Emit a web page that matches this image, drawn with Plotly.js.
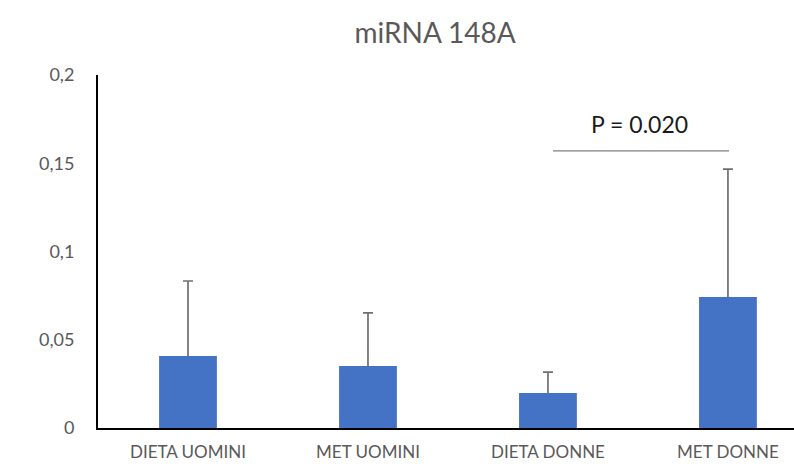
<!DOCTYPE html>
<html>
<head>
<meta charset="utf-8">
<script src="https://cdn.plot.ly/plotly-3.0.1.min.js"></script>
<style>html,body{margin:0;padding:0;background:#fff;}#chart{width:794px;height:468px;}</style>
</head>
<body>
<div id="chart"></div>
<script>
const categories = ["DIETA UOMINI", "MET UOMINI", "DIETA DONNE", "MET DONNE"];
const means = [0.0402, 0.0346, 0.0193, 0.0737];
const errors = [0.0431, 0.0306, 0.0124, 0.0730];
const yTickVals = [0, 0.05, 0.1, 0.15, 0.2];
const yTickText = ["0", "0,05", "0,1", "0,15", "0,2"];
const pLabel = "P = 0.020";
const pLineY = 0.157;
const pTextY = 0.172;

const positions = categories.map((c, i) => i);
const FONT = "Lato, 'Open Sans', sans-serif";

const errTrace = {
  type: "bar",
  x: positions,
  y: means,
  width: 0.31,
  marker: {color: "#4472C4"},
  error_y: {
    type: "data",
    symmetric: false,
    array: errors,
    arrayminus: errors.map(() => 0),
    color: "#6f6f6f",
    thickness: 1.7,
    width: 5
  },
  hoverinfo: "none"
};
// same bars drawn again on top so the lower end of the one-sided error bar is hidden
const barTrace = {
  type: "bar",
  x: positions,
  y: means,
  width: 0.31,
  marker: {color: "#4472C4", line: {color: "#4472C4", width: 2}},
  hoverinfo: "none"
};

const layout = {
  width: 794, height: 468,
  margin: {l: 98, r: 0, t: 75, b: 40},
  barmode: "overlay",
  paper_bgcolor: "#ffffff", plot_bgcolor: "#ffffff",
  font: {family: FONT, color: "#595959"},
  title: {text: "miRNA 148A", x: 0.548, xanchor: "center", y: 0.93, yanchor: "middle",
          font: {size: 28, color: "#595959", family: FONT}},
  showlegend: false,
  xaxis: {
    range: [-0.5, 3.367],
    tickvals: positions,
    ticktext: categories,
    showgrid: false, zeroline: false,
    showline: true, linecolor: "#000000", linewidth: 2,
    ticks: "", tickfont: {size: 17, color: "#595959"},
    ticklabelstandoff: 8
  },
  yaxis: {
    range: [0, 0.2],
    tickvals: yTickVals, ticktext: yTickText,
    showgrid: false, zeroline: false,
    showline: true, linecolor: "#000000", linewidth: 2,
    ticks: "", tickfont: {size: 18, color: "#595959"},
    ticklabelstandoff: 18
  },
  shapes: [{
    type: "line", xref: "x", yref: "y",
    x0: 2.028, x1: 3.006, y0: pLineY, y1: pLineY,
    line: {color: "#7f7f7f", width: 1.3}
  }],
  annotations: [{
    xref: "x", yref: "y", x: 2.51, y: pTextY,
    text: pLabel, showarrow: false,
    font: {size: 23, color: "#1a1a1a", family: FONT}
  }]
};

Plotly.newPlot("chart", [errTrace, barTrace], layout, {displayModeBar: false, staticPlot: true});
</script>
</body>
</html>
